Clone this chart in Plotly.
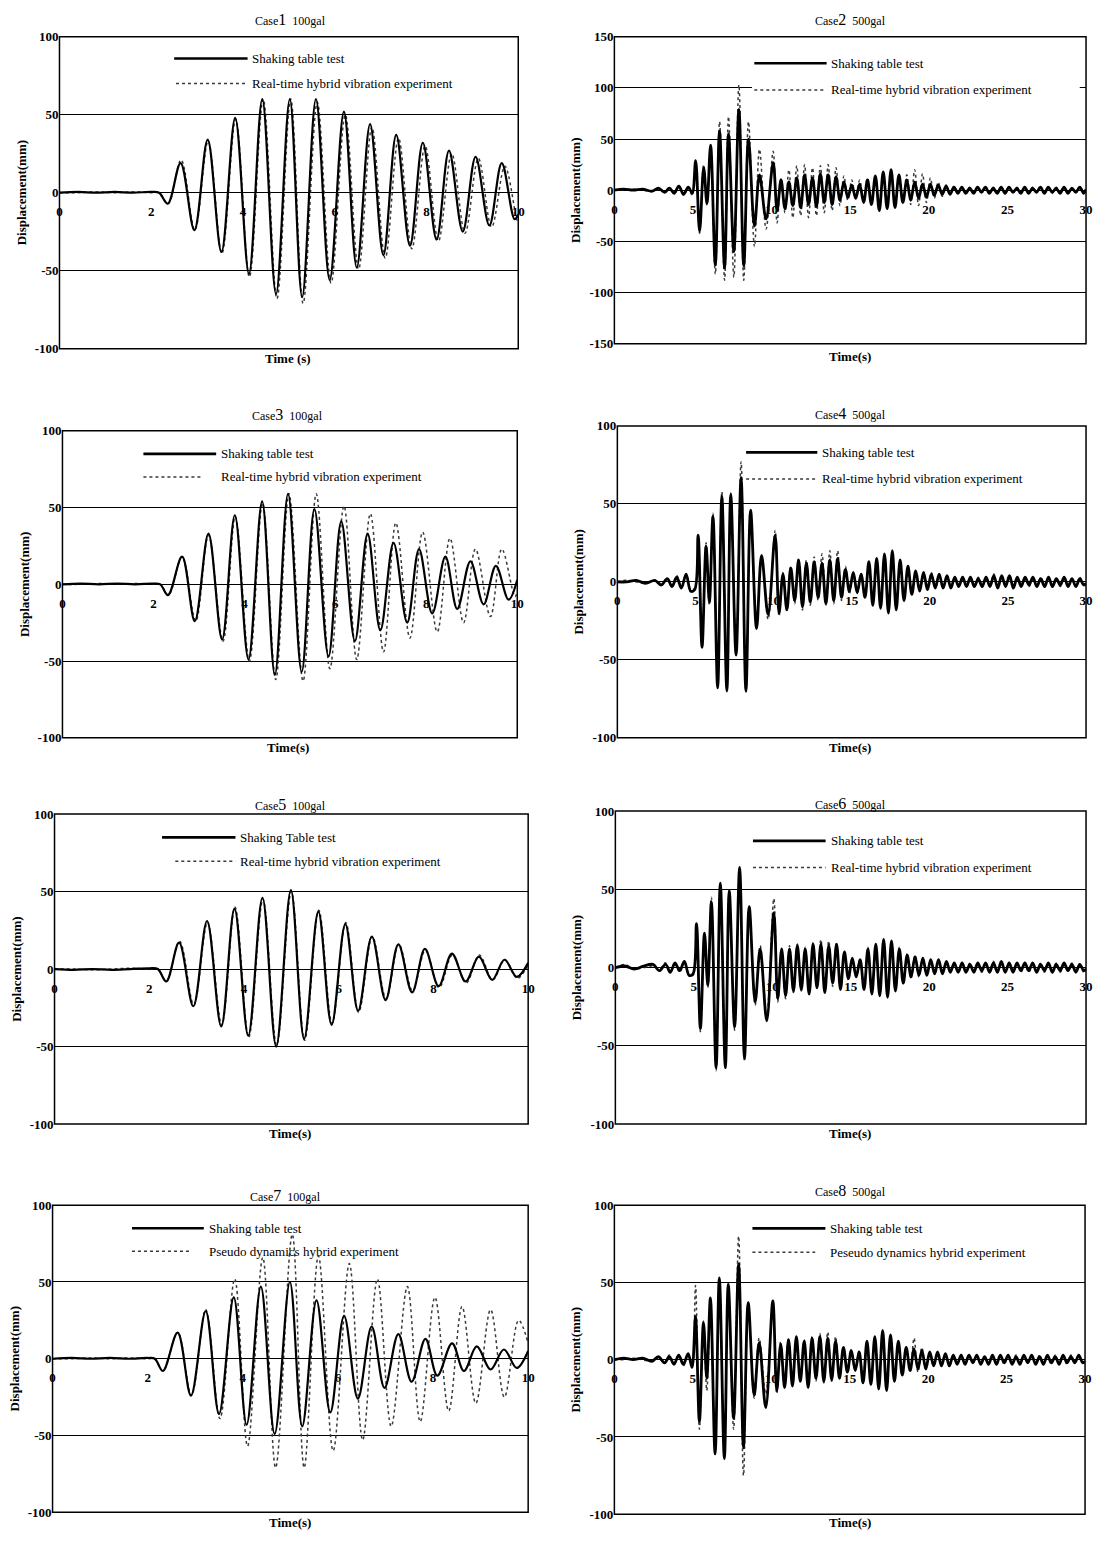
import plotly.graph_objects as go

W, H = 1097, 1543

# ---------------- 100 gal records (turning points: time s, displacement mm) ----------------
c1_shake_t = [0, 0.4, 0.8, 1.2, 1.6, 2.0, 2.17,
              2.36, 2.64, 2.94, 3.23, 3.53, 3.83, 4.13, 4.42, 4.72, 5.02,
              5.29, 5.59, 5.89, 6.20, 6.48, 6.77, 7.06, 7.34, 7.64, 7.92,
              8.22, 8.49, 8.79, 9.07, 9.37, 9.64, 9.92, 10.0]
c1_shake_y = [0, 0.5, 0, 0.5, 0, 0.5, 0,
              -7, 19, -24, 34, -38, 48, -52, 60, -65, 60,
              -67, 60, -56, 52, -48, 44, -40, 37, -34, 32,
              -30, 27, -25, 23, -21, 19, -17, -14]
c1_hyb_t = [0, 0.4, 0.8, 1.2, 1.6, 2.0, 2.17,
            2.37, 2.65, 2.95, 3.24, 3.54, 3.84, 4.14, 4.44, 4.74, 5.04,
            5.31, 5.62, 5.92, 6.23, 6.52, 6.81, 7.10, 7.39, 7.68, 7.97,
            8.26, 8.55, 8.84, 9.13, 9.42, 9.71, 9.98, 10.0]
c1_hyb_y = [0, 0, 0.5, 0, 0.5, 0, 0,
            -7, 21, -24, 33, -39, 47, -54, 60, -68, 60,
            -71, 58, -58, 50, -49, 42, -42, 35, -36, 30,
            -31, 25, -26, 22, -22, 17, -18, -17]

c3_shake_t = [0, 0.4, 0.8, 1.2, 1.6, 2.0, 2.15,
              2.32, 2.63, 2.91, 3.21, 3.51, 3.79, 4.09, 4.39, 4.67, 4.96,
              5.26, 5.54, 5.85, 6.13, 6.43, 6.71, 6.99, 7.28, 7.58, 7.84,
              8.13, 8.42, 8.68, 8.97, 9.26, 9.53, 9.81, 10.0]
c3_shake_y = [0, 0.5, 0, 0.5, 0, 0.5, 0,
              -7, 18, -24, 33, -36, 45, -49, 54, -59, 59,
              -57, 49, -47, 41, -37, 33, -30, 27, -25, 23,
              -19, 18, -16, 15, -13, 12, -10, 3]
c3_hyb_t = [0, 0.4, 0.8, 1.2, 1.6, 2.0, 2.15,
            2.33, 2.63, 2.93, 3.21, 3.53, 3.80, 4.11, 4.40, 4.69, 4.98,
            5.29, 5.58, 5.88, 6.19, 6.47, 6.77, 7.06, 7.33, 7.64, 7.92,
            8.24, 8.52, 8.82, 9.08, 9.41, 9.66, 9.95, 10.0]
c3_hyb_y = [0, 0, 0.5, 0, 0.5, 0, 0,
            -7, 18, -24, 32, -37, 44, -50, 53, -62, 59,
            -63, 59, -55, 51, -49, 46, -44, 40, -35, 34,
            -31, 30, -25, 23, -21, 23, -8, -5]

c5_shake_t = [0, 0.4, 0.8, 1.2, 1.6, 2.0, 2.18,
              2.36, 2.63, 2.93, 3.22, 3.52, 3.80, 4.09, 4.39, 4.68, 4.99,
              5.27, 5.57, 5.85, 6.14, 6.41, 6.70, 6.99, 7.26, 7.55, 7.82,
              8.11, 8.39, 8.68, 8.96, 9.24, 9.50, 9.76, 10.0]
c5_shake_y = [0, -0.5, 0, -0.5, 0, 0.5, 0,
              -8, 17, -24, 31, -37, 39, -43, 46, -50, 51,
              -45, 37, -36, 29, -27, 21, -20, 16, -15, 13,
              -11, 10, -8, 8, -7, 6, -5, 4]
c5_hyb_t = [0, 0.4, 0.8, 1.2, 1.6, 2.0, 2.18,
            2.36, 2.64, 2.94, 3.23, 3.53, 3.81, 4.10, 4.40, 4.69, 5.00,
            5.28, 5.58, 5.86, 6.15, 6.42, 6.71, 7.00, 7.27, 7.56, 7.83,
            8.12, 8.40, 8.69, 8.97, 9.25, 9.51, 9.77, 10.0]
c5_hyb_y = [0, 0, -0.5, 0, 0.5, 0, 0,
            -8, 18, -23, 30, -36, 40, -44, 45, -49, 50,
            -46, 38, -35, 30, -28, 21, -19, 16, -14, 12,
            -12, 9, -9, 9, -7, 6, -6, 3]

c7_shake_t = [0, 0.4, 0.8, 1.2, 1.6, 2.0, 2.15,
              2.32, 2.63, 2.91, 3.22, 3.50, 3.81, 4.08, 4.38, 4.67, 4.99,
              5.25, 5.55, 5.84, 6.13, 6.42, 6.71, 6.98, 7.27, 7.55, 7.84,
              8.09, 8.40, 8.65, 8.92, 9.21, 9.49, 9.76, 10.0]
c7_shake_y = [0, 0.5, 0, 0.5, 0, 0.5, 0,
              -8, 17, -24, 31, -36, 40, -43, 47, -49, 50,
              -44, 38, -35, 28, -26, 21, -19, 16, -15, 13,
              -11, 10, -8, 8, -7, 6, -6, 5]
c7_pseudo_t = [0, 0.4, 0.8, 1.2, 1.6, 2.0, 2.15,
               2.32, 2.63, 2.92, 3.22, 3.52, 3.83, 4.10, 4.42, 4.69, 5.04,
               5.29, 5.59, 5.90, 6.24, 6.52, 6.83, 7.12, 7.46, 7.73, 8.04,
               8.33, 8.61, 8.90, 9.21, 9.50, 9.80, 10.0]
c7_pseudo_y = [0, 0, 0.5, 0, 0.5, 0, 0,
               -8, 17, -24, 32, -39, 52, -57, 66, -71, 81,
               -71, 67, -60, 62, -53, 52, -44, 47, -41, 40,
               -34, 34, -29, 32, -25, 25, 10]

# ---------------- 500 gal records (common time of turning points, s) ----------------
t500 = [0, 0.6, 1.2, 1.8, 2.4, 2.8, 3.2, 3.5, 3.8, 4.1, 4.4, 4.7,
        4.95, 5.17, 5.42, 5.68, 5.89, 6.12, 6.42, 6.69, 7.01, 7.26, 7.6, 7.92, 8.23, 8.53, 8.91, 9.23, 9.65,
        10.1, 10.35, 10.6, 10.85, 11.1, 11.35, 11.6, 11.85, 12.1, 12.35, 12.6, 12.85, 13.1, 13.35, 13.6, 13.85,
        14.1, 14.35, 14.6, 14.85, 15.1, 15.35, 15.6, 15.85, 16.1, 16.35, 16.6, 16.85, 17.1, 17.35, 17.6, 17.85,
        18.1, 18.35, 18.6, 18.85, 19.1, 19.35, 19.6, 19.85, 20.1, 20.35, 20.6, 20.85, 21.1, 21.35, 21.6, 21.85,
        22.1, 22.35, 22.6, 22.85, 23.1, 23.35, 23.6, 23.85, 24.1, 24.35, 24.6, 24.85, 25.1, 25.35, 25.6, 25.85,
        26.1, 26.35, 26.6, 26.85, 27.1, 27.35, 27.6, 27.85, 28.1, 28.35, 28.6, 28.85, 29.1, 29.35, 29.6, 29.85,
        30.0]

c2_shake = [0, 1, 0, 1, -1, 2, -2, 2, -3, 4, -4, 3,
            -3, 29, -40, 22, -13, 44, -73, 58, -76, 55, -60, 79, -74, 50, -35, 15, -28,
            27, -20, 10, -18, 8, -15, 12, -17, 15, -14, 12, -16, 16, -12, 15, -14,
            13, -10, 8, -7, 5, -8, 6, -12, 10, -14, 14, -20, 18, -18, 20, -17,
            15, -12, 10, -10, 8, -8, 6, -7, 6, -5, 5, -4, 4, -4, 3, -3,
            3, -3, 2, -3, 3, -2, 3, -3, 2, -3, 3, -3, 3, -2, 2, -3,
            3, -3, 2, -2, 3, -3, 3, -2, 2, -3, 3, -3, 2, -2, 3, -3,
            1]
c2_hyb = [0, 0, 1, 0, -1, 1, -2, 2, -2, 3, -5, 3,
          -5, 25, -42, 25, -15, 45, -82, 67, -88, 72, -85, 103, -88, 67, -55, 40, -38,
          38, -32, 12, -22, 20, -27, 24, -25, 25, -27, 22, -25, 24, -22, 25, -20,
          22, -15, 14, -10, 10, -8, 10, -10, 12, -12, 12, -14, 15, -15, 14, -14,
          13, -12, 15, -14, 20, -15, 16, -12, 12, -8, 8, -6, 5, -4, 4, -3,
          3, -2, 3, -3, 2, -3, 3, -2, 3, -3, 2, -2, 3, -3, 3, -2,
          2, -3, 3, -2, 3, -3, 2, -3, 3, -2, 3, -3, 2, -2, 3, -2,
          0]
c4_shake = [0, 0, 1, -1, 1, -2, 2, -3, 3, -4, 5, -6,
            -5, 30, -42, 23, -13, 42, -68, 55, -70, 56, -47, 67, -70, 46, -30, 17, -21,
            30, -20, 5, -18, 9, -12, 14, -16, 12, -13, 13, -10, 12, -14, 14, -12,
            15, -10, 8, -6, 6, -7, 5, -10, 13, -15, 15, -17, 18, -20, 20, -18,
            14, -12, 10, -8, 7, -6, 6, -5, 5, -4, 5, -4, 4, -4, 3, -3,
            3, -3, 3, -3, 2, -3, 3, -3, 4, -4, 4, -3, 4, -4, 3, -3,
            3, -2, 3, -3, 2, -3, 3, -3, 2, -2, 3, -3, 2, -3, 2, -2,
            -1]
c4_hyb = [0, 1, 0, -1, 1, -1, 2, -2, 4, -3, 4, -5,
          -4, 28, -40, 25, -15, 44, -66, 58, -68, 57, -45, 77, -71, 45, -28, 15, -24,
          33, -22, 6, -18, 10, -14, 15, -18, 14, -15, 16, -12, 18, -15, 20, -14,
          20, -12, 10, -8, 6, -7, 5, -10, 12, -14, 15, -16, 17, -18, 18, -16,
          12, -10, 8, -8, 7, -6, 6, -5, 6, -4, 5, -4, 4, -3, 3, -3,
          3, -2, 3, -3, 3, -3, 3, -2, 5, -4, 4, -3, 4, -3, 3, -2,
          3, -3, 2, -3, 3, -2, 3, -3, 2, -3, 3, -2, 2, -3, 3, -2,
          0]
c6_shake = [0, 1, -1, 1, 2, -2, 2, -3, 3, -2, 4, -5,
            -4, 28, -39, 22, -11, 42, -64, 54, -64, 49, -38, 64, -58, 39, -22, 12, -34,
            35, -20, 12, -18, 12, -15, 14, -14, 12, -17, 15, -13, 15, -16, 14, -10,
            15, -14, 10, -7, 6, -6, 5, -14, 12, -17, 15, -18, 18, -19, 17, -15,
            12, -10, 8, -6, 7, -5, 6, -5, 5, -4, 5, -4, 4, -3, 3, -3,
            3, -3, 2, -3, 3, -2, 3, -3, 3, -3, 4, -3, 3, -3, 3, -2,
            3, -2, 3, -3, 2, -2, 3, -3, 2, -2, 3, -2, 2, -3, 2, -2,
            -1]
c6_hyb = [0, 2, -1, 0, 1, -1, 3, -2, 2, -3, 3, -4,
          -5, 25, -41, 20, -13, 45, -66, 53, -65, 50, -40, 58, -60, 37, -24, 14, -30,
          44, -22, 10, -20, 14, -16, 15, -15, 13, -16, 16, -12, 18, -15, 17, -12,
          16, -12, 10, -8, 6, -6, 6, -12, 13, -15, 14, -16, 16, -17, 16, -14,
          13, -10, 9, -7, 8, -6, 6, -5, 5, -4, 4, -4, 4, -3, 3, -3,
          3, -2, 3, -3, 2, -3, 3, -2, 4, -3, 3, -3, 3, -2, 3, -3,
          2, -3, 3, -2, 3, -3, 2, -2, 3, -3, 2, -2, 3, -2, 2, -3,
          0]
c8_shake = [0, 1, 0, 1, -1, 2, -2, 2, -3, 3, -3, 4,
            -5, 28, -40, 24, -12, 40, -61, 53, -64, 49, -38, 62, -57, 37, -23, 11, -31,
            38, -20, 10, -18, 13, -17, 15, -14, 12, -18, 14, -12, 15, -14, 14, -13,
            12, -12, 8, -8, 6, -7, 5, -15, 12, -16, 15, -19, 19, -20, 16, -14,
            12, -10, 8, -7, 7, -6, 6, -6, 5, -4, 5, -4, 4, -4, 3, -3,
            3, -3, 3, -2, 3, -3, 2, -3, 3, -3, 3, -2, 3, -3, 2, -3,
            3, -2, 3, -3, 2, -3, 3, -2, 2, -3, 3, -2, 2, -2, 3, -2,
            -1]
c8_pseudo = [0, 0, 1, 0, -1, 1, -2, 3, -2, 2, -4, 3,
             -4, 48, -45, 25, -20, 30, -52, 52, -60, 48, -45, 80, -75, 37, -25, 14, -22,
             36, -22, 12, -18, 14, -16, 14, -15, 13, -16, 15, -14, 17, -15, 18, -14,
             15, -12, 8, -8, 6, -7, 6, -12, 12, -14, 14, -15, 16, -16, 14, -12,
             10, -10, 8, -7, 14, -8, 8, -6, 5, -4, 4, -4, 4, -3, 3, -3,
             2, -3, 3, -2, 3, -3, 2, -2, 3, -3, 2, -3, 3, -2, 3, -3,
             2, -2, 3, -3, 3, -2, 2, -3, 3, -2, 2, -3, 3, -2, 2, -2,
             0]

titles = ["1\u00a0\u00a0100gal", "2\u00a0\u00a0500gal", "3\u00a0\u00a0100gal", "4\u00a0\u00a0500gal",
          "5\u00a0\u00a0100gal", "6\u00a0\u00a0500gal", "7\u00a0\u00a0100gal", "8\u00a0\u00a0500gal"]
shake_names = ["Shaking table test"] * 4 + ["Shaking Table test", "Shaking table test",
                                            "Shaking table test", "Shaking table test"]
hyb_names = ["Real-time hybrid vibration experiment"] * 6 + ["Pseudo dynamics hybrid experiment",
                                                              "Peseudo dynamics hybrid experiment"]
time_titles = ["Time (s)"] + ["Time(s)"] * 7

series = [
    (c1_shake_t, c1_shake_y, c1_hyb_t, c1_hyb_y),
    (t500, c2_shake, t500, c2_hyb),
    (c3_shake_t, c3_shake_y, c3_hyb_t, c3_hyb_y),
    (t500, c4_shake, t500, c4_hyb),
    (c5_shake_t, c5_shake_y, c5_hyb_t, c5_hyb_y),
    (t500, c6_shake, t500, c6_hyb),
    (c7_shake_t, c7_shake_y, c7_pseudo_t, c7_pseudo_y),
    (t500, c8_shake, t500, c8_pseudo),
]
for s in series:
    if len(s[0]) != len(s[1]) or len(s[2]) != len(s[3]):
        print("length mismatch", len(s[0]), len(s[1]), len(s[2]), len(s[3]))

# ---------------- layout geometry (pixels) ----------------
boxes = [(57, 520, 30, 345), (617, 1093, 30, 340), (60, 519, 428, 738), (620, 1093, 423, 738),
         (52, 530, 815, 1128), (618, 1093, 812, 1128), (50, 530, 1210, 1520), (617, 1092, 1210, 1522)]
title_pos = [(290, 13), (855, 13), (287, 411), (855, 410), (290, 805), (855, 804), (285, 1200), (855, 1195)]
xtitle_pos = [(288, 355), (855, 353), (288, 748), (855, 748), (290, 1138), (855, 1138), (290, 1530), (855, 1530)]
# legend sample positions in data units: (x0, x1 solid, y solid, x0, x1 dotted, y dotted, text x)
leg = [(2.5, 4.1, 86, 2.54, 4.08, 70, 4.16),
       (8.9, 13.5, 124, 8.9, 13.4, 98, 13.65),
       (1.78, 3.38, 85, 1.78, 3.1, 70, 3.45),
       (8.24, 12.8, 83, 8.24, 12.8, 66, 13.0),
       (2.27, 3.82, 85, 2.55, 3.82, 69.5, 3.88),
       (8.77, 13.4, 81, 8.77, 13.4, 64, 13.6),
       (1.67, 3.18, 85, 1.67, 2.9, 70, 3.25),
       (8.8, 13.45, 85, 8.8, 12.8, 69.5, 13.6)]

SERIF = "Liberation Serif, Times New Roman, serif"
fig = go.Figure()
layout = dict(width=W, height=H, margin=dict(l=0, r=0, t=0, b=0), paper_bgcolor="white",
              plot_bgcolor="white", showlegend=False, font=dict(family=SERIF, color="black"))
shapes, annos = [], []

for i in range(8):
    n = i + 1
    xs_, ys_, xh_, yh_ = series[i]
    big = (i % 2 == 1)
    xa = "x" if n == 1 else f"x{n}"
    ya = "y" if n == 1 else f"y{n}"
    fig.add_trace(go.Scatter(x=xh_, y=yh_, mode="lines", xaxis=xa, yaxis=ya, name=hyb_names[i],
                             line=dict(color="#3a3a3a", width=1.5, dash="dot", shape="spline", smoothing=1.0)))
    fig.add_trace(go.Scatter(x=xs_, y=ys_, mode="lines", xaxis=xa, yaxis=ya, name=shake_names[i],
                             line=dict(color="black", width=2.8 if big else 2.2, shape="spline", smoothing=1.0)))
    x0, x1, y0, y1 = boxes[i]
    yr = [-150, 150] if n == 2 else [-100, 100]
    ytv = list(range(yr[0], yr[1] + 1, 50))
    xr = [0, 30] if big else [0, 10]
    xtv = list(range(0, 31, 5)) if big else list(range(0, 11, 2))
    layout["xaxis" if n == 1 else f"xaxis{n}"] = dict(
        domain=[x0 / W, x1 / W], anchor="free", position=1 - ((y0 + y1) / 2) / H,
        range=xr, tickvals=xtv, ticktext=[str(v) for v in xtv], showgrid=False, zeroline=False,
        showline=False, ticks="outside", ticklen=7, tickcolor="rgba(0,0,0,0)",
        tickfont=dict(family=SERIF, size=13, color="black", weight="bold"), fixedrange=True)
    layout["yaxis" if n == 1 else f"yaxis{n}"] = dict(
        domain=[1 - y1 / H, 1 - y0 / H], anchor=xa, range=yr, tickvals=ytv,
        ticktext=[str(v) for v in ytv], showgrid=True, gridcolor="black", gridwidth=1,
        zeroline=True, zerolinecolor="black", zerolinewidth=1, showline=False, ticks="",
        tickfont=dict(family=SERIF, size=13, color="black", weight="bold"),
        title=dict(text="Displacement(mm)", standoff=5,
                   font=dict(family=SERIF, size=13, color="black", weight="bold")),
        fixedrange=True)
    # frame
    shapes.append(dict(type="rect", xref=f"{xa} domain", yref=f"{ya} domain", x0=0, x1=1, y0=0, y1=1,
                       line=dict(color="black", width=1.5), layer="above"))
    # legend
    lx0, lx1, ly, dx0, dx1, dy, tx = leg[i]
    if n == 2:
        shapes.append(dict(type="rect", xref=xa, yref=ya, x0=8.75, x1=29.6, y0=88, y1=136,
                           fillcolor="white", line=dict(width=0), layer="between"))
    shapes.append(dict(type="line", xref=xa, yref=ya, x0=lx0, x1=lx1, y0=ly, y1=ly,
                       line=dict(color="black", width=2.6)))
    shapes.append(dict(type="line", xref=xa, yref=ya, x0=dx0, x1=dx1, y0=dy, y1=dy,
                       line=dict(color="#3a3a3a", width=1.5, dash="dot")))
    annos.append(dict(x=tx, y=ly, xref=xa, yref=ya, text=shake_names[i], showarrow=False,
                      xanchor="left", yanchor="middle", font=dict(family=SERIF, size=13, color="black")))
    annos.append(dict(x=tx, y=dy, xref=xa, yref=ya, text=hyb_names[i], showarrow=False,
                      xanchor="left", yanchor="middle", font=dict(family=SERIF, size=13, color="black")))
    # titles
    tpx, tpy = title_pos[i]
    annos.append(dict(x=tpx / W, y=1 - tpy / H, xref="paper", yref="paper", showarrow=False,
                      text="Case<span style='font-size:16px'>" + titles[i][0] + "</span>" + titles[i][1:],
                      xanchor="center", yanchor="middle", font=dict(family=SERIF, size=12, color="black")))
    xtx, xty = xtitle_pos[i]
    annos.append(dict(x=xtx / W, y=1 - xty / H, xref="paper", yref="paper", showarrow=False,
                      text=time_titles[i], xanchor="center", yanchor="middle",
                      font=dict(family=SERIF, size=13, color="black", weight="bold")))

layout["shapes"] = shapes
layout["annotations"] = annos
fig.update_layout(**layout)
fig.write_html("out.html")
